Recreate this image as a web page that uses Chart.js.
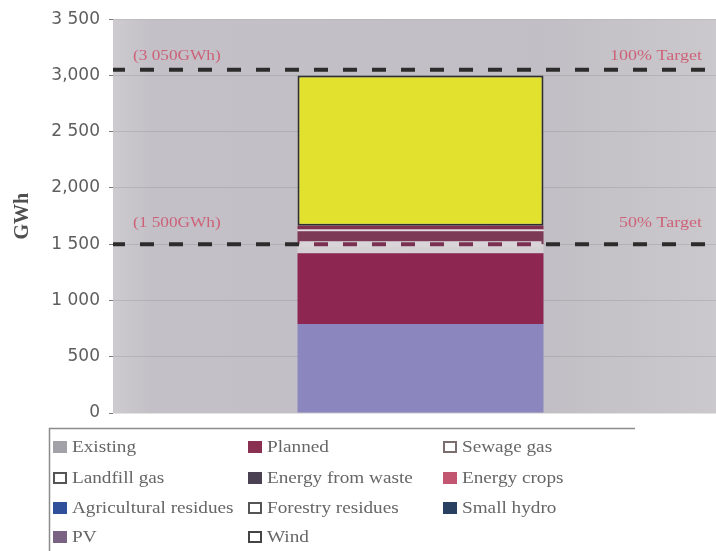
<!DOCTYPE html>
<html>
<head>
<meta charset="utf-8">
<script src="https://cdn.jsdelivr.net/npm/chart.js@4/dist/chart.umd.min.js"></script>
<style>
  html, body { margin: 0; padding: 0; background: #ffffff; overflow: hidden; }
  canvas { display: block; }
</style>
</head>
<body>
<!-- the plot runs on past the right edge of the window -->
<canvas id="chart" width="728" height="551"></canvas>
<script>
// ---- data ----
const categories = [''];
const seriesNames = [
  'Existing', 'Planned', 'Sewage gas',
  'Landfill gas', 'Energy from waste', 'Energy crops',
  'Agricultural residues', 'Forestry residues', 'Small hydro',
  'PV', 'Wind'
];
const seriesValues = [790, 630, 80, 0, 115, 15, 35, 0, 0, 0, 1335];
const yTickLabels = ['0', '500', '1 000', '1 500', '2,000', '2 500', '3,000', '3 500'];
const targetValues = [1500, 3050];
const targetLeftLabels = ['(1 500GWh)', '(3 050GWh)'];
const targetRightLabels = ['50% Target', '100% Target'];

// ---- styles ----
const barColors = ['#8c86bf', '#8e2652', '#d4d0d4', '#c8c4c8', '#7c3a56', '#e6dde3',
                   '#82304f', '#cfcfcf', '#2a4060', '#7a6080', '#e2e22e'];
const legendFill = ['#a2a1a8', '#8a3050', '#ffffff', '#ffffff', '#4a4252', '#c25570',
                    '#2f4f9a', '#ffffff', '#2a4060', '#7a6282', '#ffffff'];
const legendStroke = ['#a2a1a8', '#8a3050', '#7a6e6e', '#555555', '#4a4252', '#c25570',
                      '#2f4f9a', '#555555', '#2a4060', '#7a6282', '#444444'];

const datasets = seriesNames.map((name, i) => ({
  label: name,
  data: [seriesValues[i]],
  backgroundColor: barColors[i],
  borderColor: '#2e2e2e',
  borderWidth: name === 'Wind' ? 2 : 0,
  borderSkipped: false,
  categoryPercentage: 1,
  barPercentage: 0.4
}));

// plot area background
const plotBackground = {
  id: 'plotBackground',
  beforeDraw(chart) {
    const { ctx, chartArea: a } = chart;
    const g = ctx.createLinearGradient(a.left, 0, a.right, 0);
    g.addColorStop(0, '#cdcbcf');
    g.addColorStop(0.06, '#c3c1c7');
    g.addColorStop(0.7, '#c1bfc5');
    g.addColorStop(1, '#cbc9cc');
    ctx.save();
    ctx.fillStyle = g;
    ctx.fillRect(a.left, a.top, a.right - a.left, a.bottom - a.top);
    ctx.restore();
  }
};

// dashed target lines with their captions
const targetLines = {
  id: 'targetLines',
  afterDatasetsDraw(chart) {
    const { ctx, chartArea: a, scales } = chart;
    const y = scales.y;
    const bar = chart.getDatasetMeta(0).data[0];
    const bx0 = bar.x - bar.width / 2, bx1 = bar.x + bar.width / 2;
    const total = seriesValues.reduce((s, x) => s + x, 0);
    ctx.save();
    targetValues.forEach((v, i) => {
      const py = y.getPixelForValue(v);
      ctx.lineWidth = 4;
      ctx.setLineDash([14, 15]);
      ctx.lineDashOffset = -27;
      ctx.strokeStyle = '#2c2c2c';
      ctx.beginPath();
      ctx.moveTo(a.left, py);
      ctx.lineTo(a.right, py);
      ctx.stroke();
      if (v < total - 100) {
        // inside the bar the dashes take the tone of the segment
        ctx.save();
        ctx.beginPath();
        ctx.rect(bx0 + 2, py - 4, bx1 - bx0 - 4, 8);
        ctx.clip();
        ctx.fillStyle = '#d8d4d8';
        ctx.fillRect(bx0, py - 3, bx1 - bx0, 6);
        ctx.strokeStyle = '#7a3050';
        ctx.beginPath();
        ctx.moveTo(a.left, py);
        ctx.lineTo(a.right, py);
        ctx.stroke();
        ctx.restore();
      }
      ctx.setLineDash([]);
      ctx.fillStyle = 'rgba(208, 72, 100, 0.8)';
      ctx.font = '15px "Liberation Serif", serif';
      ctx.textBaseline = 'middle';
      const ly = py - (i === 0 ? 21 : 14);
      ctx.save();
      ctx.translate(a.left + 20, ly);
      ctx.scale(1.15, 1);
      ctx.textAlign = 'left';
      ctx.fillText(targetLeftLabels[i], 0, 0);
      ctx.restore();
      ctx.save();
      ctx.translate(a.right - 26, ly);
      ctx.scale(1.2, 1);
      ctx.textAlign = 'right';
      ctx.fillText(targetRightLabels[i], 0, 0);
      ctx.restore();
    });
    ctx.restore();
  }
};

// three-column legend box beneath the plot
const gridLegend = {
  id: 'gridLegend',
  afterDraw(chart) {
    const { ctx } = chart;
    const colX = [53, 248, 443];
    const rowY = [448, 479, 509, 538];
    ctx.save();
    ctx.fillStyle = '#ffffff';
    ctx.fillRect(49, 428, 586, 130);
    ctx.strokeStyle = '#8c8c8c';
    ctx.lineWidth = 1.5;
    ctx.beginPath();
    ctx.moveTo(49.5, 560);
    ctx.lineTo(49.5, 428.5);
    ctx.lineTo(635, 428.5);
    ctx.stroke();
    chart.data.datasets.forEach((ds, i) => {
      const cx = colX[i % 3];
      const cy = rowY[Math.floor(i / 3)];
      ctx.fillStyle = legendFill[i];
      ctx.fillRect(cx, cy - 7, 14, 12);
      ctx.strokeStyle = legendStroke[i];
      ctx.lineWidth = 2;
      ctx.strokeRect(cx + 1, cy - 6, 12, 10);
      ctx.save();
      ctx.translate(cx + 19, cy);
      ctx.scale(1.2, 1);
      ctx.fillStyle = '#666666';
      ctx.font = '16px "Liberation Serif", serif';
      ctx.textBaseline = 'middle';
      ctx.textAlign = 'left';
      ctx.fillText(ds.label, 0, 0);
      ctx.restore();
    });
    ctx.restore();
  }
};

new Chart(document.getElementById('chart'), {
  type: 'bar',
  data: { labels: categories, datasets },
  plugins: [plotBackground, targetLines, gridLegend],
  options: {
    responsive: false,
    devicePixelRatio: 1,
    animation: false,
    layout: { padding: { top: 16, right: 0, bottom: 138, left: 0 } },
    plugins: { legend: { display: false }, tooltip: { enabled: false } },
    scales: {
      x: { stacked: true, display: false },
      y: {
        stacked: true,
        min: 0,
        max: 3500,
        afterFit(scale) { scale.width = 113; },
        ticks: {
          stepSize: 500,
          padding: 9,
          color: '#5e5e5e',
          font: { family: '"DejaVu Sans", sans-serif', size: 17 },
          callback: (v, i) => yTickLabels[i]
        },
        grid: {
          color: 'rgba(80, 80, 80, 0.16)',
          tickColor: '#7a7a7a',
          tickLength: 4
        },
        border: { display: false },
        title: {
          display: true,
          text: 'GWh',
          color: '#505050',
          padding: { top: 11, bottom: 0 },
          font: { family: '"Liberation Serif", serif', size: 20, weight: 'bold' }
        }
      }
    }
  }
});
</script>
</body>
</html>
